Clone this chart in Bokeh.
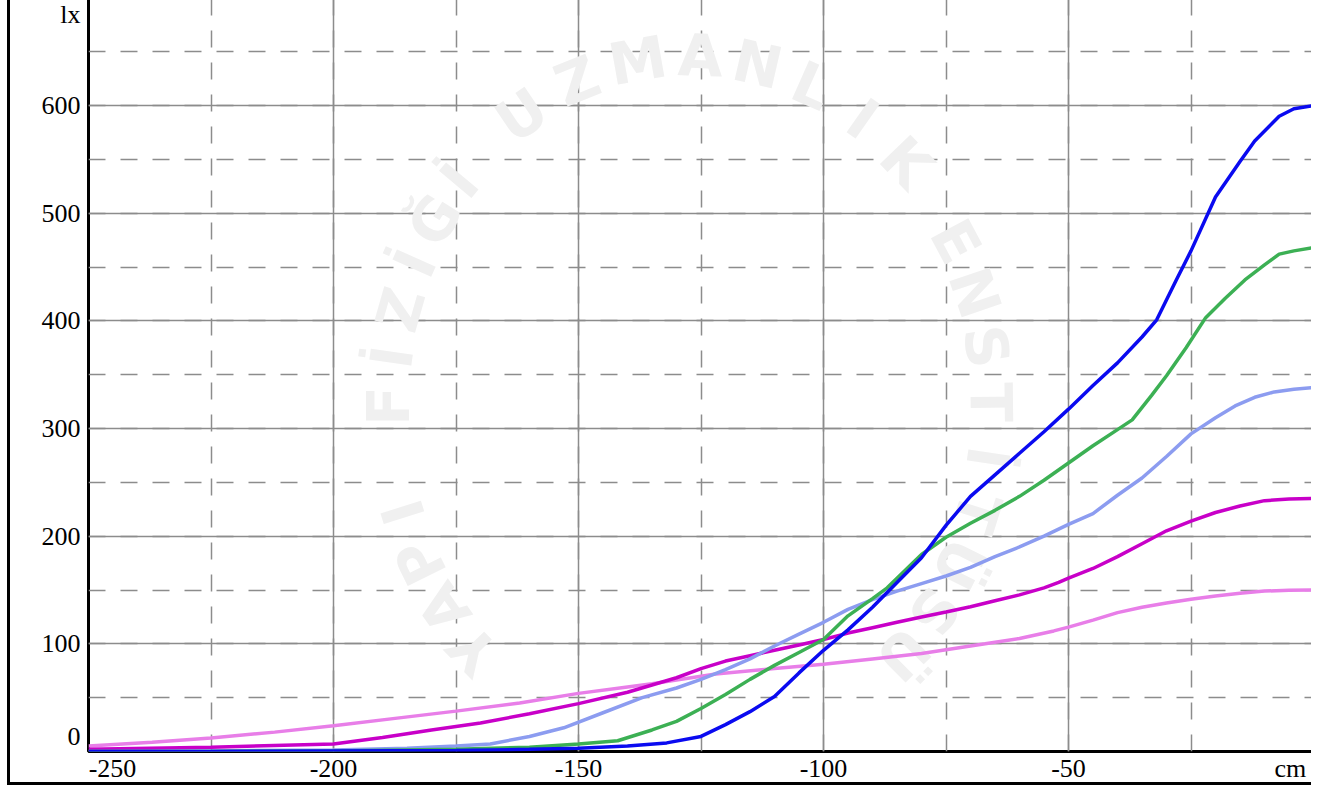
import numpy as np
from bokeh.plotting import figure
from bokeh.models import Range1d, SingleIntervalTicker, FixedTicker
from bokeh.embed import file_html
from bokeh.resources import INLINE
from bokeh.core.properties import value

# ---------------- data ----------------
x_ticks = [-250, -200, -150, -100, -50, 0]
x_tick_labels = ["-250", "-200", "-150", "-100", "-50", "cm"]
y_ticks = [0, 100, 200, 300, 400, 500, 600, 700]
y_tick_labels = ["0", "100", "200", "300", "400", "500", "600", "lx"]

blue_x = [-250, -225, -200, -175, -160, -150, -140, -132, -125, -120, -115, -110, -105, -100,
          -95, -90, -85, -80, -75, -70, -65, -60, -55, -50, -45, -40, -35, -32, -28, -25,
          -20, -15, -12, -7, -4, 0]
blue_y = [0, 0, 0.5, 1, 2, 3, 5, 8, 14, 25, 37, 51, 73, 94,
          113, 134, 157, 180, 210, 237, 257, 277, 297, 318, 340, 361, 385, 401, 438, 465,
          515, 548, 567, 590, 597, 600]

green_x = [-250, -225, -200, -175, -160, -150, -142, -135, -130, -125, -120, -115, -110, -105,
           -100, -95, -90, -87, -80, -75, -70, -65, -60, -55, -50, -45, -40, -37, -33, -30,
           -26, -22, -18, -14, -10, -7, -4, 0]
green_y = [0, 0, 0.5, 2, 4, 7, 10, 20, 28, 40, 53, 67, 80, 92,
           104, 126, 142, 152, 183, 199, 212, 224, 237, 252, 268, 284, 299, 308, 331, 349,
           375, 403, 421, 438, 452, 462, 465, 468]

lightblue_x = [-250, -225, -200, -185, -175, -168, -160, -153, -145, -137, -130, -125, -120,
               -115, -110, -105, -100, -95, -90, -85, -80, -75, -70, -65, -60, -55, -50, -45,
               -40, -35, -30, -25, -20, -16, -12, -8, -4, 0]
lightblue_y = [0, 0.5, 1.5, 3, 5, 7, 14, 22, 36, 50, 59, 67, 76,
               86, 98, 109, 120, 132, 141, 149, 156, 163, 171, 181, 190, 200, 211, 221,
               238, 254, 274, 295, 310, 321, 329, 334, 336.5, 338]

magenta_x = [-250, -225, -200, -190, -180, -170, -160, -150, -140, -130, -125, -120, -115,
             -110, -105, -100, -95, -90, -85, -80, -75, -70, -65, -60, -55, -52, -50, -45,
             -40, -35, -30, -25, -20, -15, -10, -5, 0]
magenta_y = [2, 4, 7, 13, 20, 26.5, 35, 44.5, 55, 68.5, 77, 84, 89,
             94, 99, 104, 110, 115, 120, 125, 129.5, 134.5, 140, 145.5, 152, 157, 161, 170,
             181, 193, 205, 214, 222, 228, 233, 234.5, 235]

pink_x = [-250, -237, -225, -212, -200, -187, -175, -162, -150, -140, -135, -122, -110, -100,
          -90, -80, -67, -60, -53, -50, -45, -40, -35, -30, -25, -20, -15, -10, -5, 0]
pink_y = [5, 8.5, 12.5, 18, 24, 31, 37.5, 45, 54, 60, 63, 72, 77, 81,
          86, 91, 100, 105, 112, 115.5, 122, 129, 134, 138, 141.5, 144.5, 147, 149, 149.7, 150]

series = [
    (pink_x, pink_y, "#e87ee8"),
    (magenta_x, magenta_y, "#c800c8"),
    (lightblue_x, lightblue_y, "#8c9cf0"),
    (green_x, green_y, "#3cb054"),
    (blue_x, blue_y, "#0a0af0"),
]

watermark_ring = "YAPI FİZİĞİ UZMANLIK ENSTİTÜSÜ"

# ---------------- figure ----------------
FONT = "Liberation Serif"
Y_TOP = 705.0
X_PX = 1222 / 250.0     # pixels per cm
Y_PX = 758 / Y_TOP      # pixels per lx

p = figure(width=1304, height=793,
           x_range=Range1d(-250, 0), y_range=Range1d(0, Y_TOP),
           output_backend="svg", toolbar_location=None,
           min_border_left=78, min_border_right=1, min_border_top=0, min_border_bottom=32)
p.styles = {"margin-left": "7px", "margin-top": "-8px",
            "border-left": "3px solid black", "border-bottom": "3px solid black"}
p.background_fill_color = "white"
p.border_fill_color = "white"
p.outline_line_color = "black"
p.outline_line_width = 3

for g in p.xgrid:
    g.ticker = SingleIntervalTicker(interval=50, num_minor_ticks=2)
for g in p.ygrid:
    g.ticker = SingleIntervalTicker(interval=100, num_minor_ticks=2)
for g in list(p.xgrid) + list(p.ygrid):
    g.grid_line_color = "#8c8c8c"
    g.grid_line_width = 1.5
    g.minor_grid_line_color = "#8c8c8c"
    g.minor_grid_line_width = 1.5
    g.minor_grid_line_dash = "17 15"

# tick label placement (end labels are nudged inward, as in the reference)
def xlab_pos(v, t):
    w = 26 * (0.5 * len(t.replace("-", "")) + 0.333 * t.count("-")) if t != "cm" else 31.8
    if v == x_ticks[0]:
        return v + (w / 2) / X_PX
    if v == x_ticks[-1]:
        return v - (w / 2 + 7) / X_PX
    return v

def ylab_pos(v):
    if v == y_ticks[0]:
        return v + 15 / Y_PX
    if v == y_ticks[-1]:
        return v - 17 / Y_PX
    return v

xpos = [round(xlab_pos(v, t), 1) for v, t in zip(x_ticks, x_tick_labels)]
ypos = [round(ylab_pos(v), 1) for v in y_ticks]

for ax in list(p.xaxis) + list(p.yaxis):
    ax.axis_line_color = None
    ax.major_tick_line_color = None
    ax.minor_tick_line_color = None
    ax.major_tick_out = 0
    ax.major_tick_in = 0
    ax.minor_tick_out = 0
    ax.minor_tick_in = 0
    ax.major_label_text_font = FONT
    ax.major_label_text_font_size = "26px"
    ax.major_label_text_color = "black"

p.xaxis.ticker = FixedTicker(ticks=xpos, minor_ticks=[])
p.xaxis.major_label_overrides = {k: t for k, t in zip(xpos, x_tick_labels)}
p.xaxis.major_label_standoff = 2
p.yaxis.ticker = FixedTicker(ticks=ypos, minor_ticks=[])
p.yaxis.major_label_overrides = {k: t for k, t in zip(ypos, y_tick_labels)}
p.yaxis.major_label_standoff = 8

# watermark ring text (decorative, faint) placed along an ellipse
chars = [(i, c) for i, c in enumerate(watermark_ring) if c != " "]
idx = np.array([i for i, _ in chars], dtype=float)
anchor_i = [0, 5, 12, 15, 19, 21, 29]
anchor_a = [224, 180, 124, 88, 44, 28, -45]
th = np.deg2rad(np.interp(idx, anchor_i, anchor_a))
cx, cy, rx, ry = 688.0, 405.0, 300.0, 350.0
px = cx + rx * np.cos(th)
py = cy - ry * np.sin(th)
wx = -250 + (px - 88) / X_PX
wy = (750 - py) / Y_PX
p.text(x=list(wx), y=list(wy), text=[c for _, c in chars], angle=list(th - np.pi / 2),
       text_font=value("DejaVu Sans"), text_font_style="bold", text_font_size="58px",
       text_align="center", text_baseline="middle",
       text_color="#f0f0f0")

for xs, ys, col in series:
    p.line(xs, ys, line_color=col, line_width=3.5)

open("out.html", "w").write(file_html(p, INLINE))
